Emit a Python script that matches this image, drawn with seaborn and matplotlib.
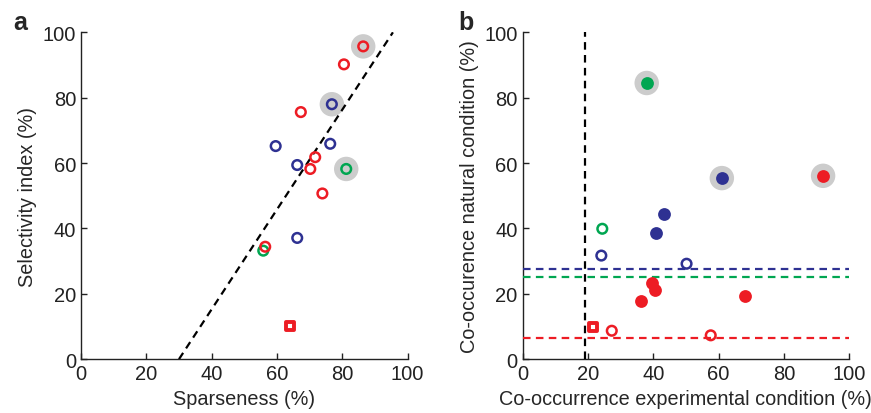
import numpy as np
import pandas as pd
import matplotlib
matplotlib.use("Agg")
import matplotlib.pyplot as plt
import seaborn as sns

# colours used in the figure
RED = "#ED1C24"
BLUE = "#2E3192"
GREEN = "#00A651"
HALO = "#CCCCCC"
palette = {"red": RED, "blue": BLUE, "green": GREEN}

# panel a: sparseness vs selectivity index
a_sparse = [86.4, 80.5, 76.8, 67.3, 59.6, 76.3, 71.7, 66.2, 70.2, 81.2, 73.9, 66.2, 56.4, 55.8, 64.1]
a_select = [95.7, 90.2, 78.0, 75.6, 65.2, 65.9, 61.8, 59.4, 58.2, 58.2, 50.7, 37.1, 34.4, 33.2, 10.1]
a_group = ["red", "red", "blue", "red", "blue", "blue", "red", "blue", "red", "green",
           "red", "blue", "red", "green", "red"]
a_halo = [1, 0, 1, 0, 0, 0, 0, 0, 0, 1, 0, 0, 0, 0, 0]
a_kind = ["open"] * 14 + ["square"]
fit_x = [30.0, 95.5]
fit_y = [0.0, 100.0]

# panel b: co-occurrence experimental vs natural
b_exp = [38.0, 61.0, 92.0, 43.4, 40.8, 24.4, 24.1, 50.2, 39.7, 40.5, 36.2, 68.0, 21.5, 27.3, 57.6]
b_nat = [84.5, 55.4, 56.1, 44.4, 38.7, 39.9, 31.7, 29.2, 23.3, 21.1, 17.7, 19.4, 9.8, 8.7, 7.3]
b_group = ["green", "blue", "red", "blue", "blue", "green", "blue", "blue", "red", "red",
           "red", "red", "red", "red", "red"]
b_halo = [1, 1, 1, 0, 0, 0, 0, 0, 0, 0, 0, 0, 0, 0, 0]
b_kind = ["filled"] * 5 + ["open", "open", "open"] + ["filled"] * 4 + ["square", "open", "open"]
chance_group = ["blue", "green", "red"]
chance_level = [27.5, 25.2, 6.4]
exp_threshold = 19.1

df_a = pd.DataFrame({"x": a_sparse, "y": a_select, "group": a_group, "halo": a_halo, "kind": a_kind})
df_b = pd.DataFrame({"x": b_exp, "y": b_nat, "group": b_group, "halo": b_halo, "kind": b_kind})

sns.set_style("ticks")
plt.rcParams["font.family"] = ["Liberation Sans", "DejaVu Sans"]
plt.rcParams["xtick.direction"] = "in"
plt.rcParams["ytick.direction"] = "in"

fig, axes = plt.subplots(1, 2, figsize=(8.71, 4.14), dpi=100)
fig.subplots_adjust(left=0.093, right=0.975, bottom=0.13, top=0.9195, wspace=0.352)

dash = (0, (3.4, 2.4))


def draw_points(ax, df):
    halo = df[df["halo"] == 1]
    sns.scatterplot(data=halo, x="x", y="y", ax=ax, color=HALO, s=310,
                    edgecolor="none", legend=False, zorder=2)
    for (grp, kind), sub in df.groupby(["group", "kind"]):
        col = palette[grp]
        if kind == "open":
            sns.scatterplot(data=sub, x="x", y="y", ax=ax, marker="o", s=48,
                            facecolor="none", edgecolor=col, linewidth=1.8,
                            legend=False, zorder=4)
        elif kind == "filled":
            sns.scatterplot(data=sub, x="x", y="y", ax=ax, marker="o", s=85,
                            color=col, edgecolor=col, linewidth=0,
                            legend=False, zorder=4)
        else:
            sns.scatterplot(data=sub, x="x", y="y", ax=ax, marker="s", s=30,
                            facecolor="white", edgecolor=col, linewidth=2.8,
                            legend=False, zorder=4)


def style_axis(ax, xlabel, ylabel):
    ax.set_xlim(0, 100)
    ax.set_ylim(0, 100)
    ax.set_xticks(np.arange(0, 101, 20))
    ax.set_yticks(np.arange(0, 101, 20))
    ax.tick_params(labelsize=14.5, length=4, width=1, colors="#222222")
    ax.set_xlabel(xlabel, fontsize=14.3, labelpad=4)
    ax.set_ylabel(ylabel, fontsize=14.3, labelpad=4)
    for side in ["left", "bottom"]:
        ax.spines[side].set_linewidth(1.0)
        ax.spines[side].set_color("#222222")
    sns.despine(ax=ax)


# panel a
ax = axes[0]
draw_points(ax, df_a)
sns.lineplot(x=fit_x, y=fit_y, ax=ax, color="black", linewidth=1.6, linestyle=dash, zorder=3)
style_axis(ax, "Sparseness (%)", "Selectivity index (%)")
fig.text(0.015, 0.928, "a", fontsize=18, fontweight="bold", va="baseline")

# panel b
ax = axes[1]
draw_points(ax, df_b)
for grp, lvl in zip(chance_group, chance_level):
    ax.axhline(lvl, color=palette[grp], linewidth=1.6, linestyle=dash, zorder=3)
ax.axvline(exp_threshold, color="black", linewidth=1.6, linestyle=dash, zorder=3)
style_axis(ax, "Co-occurrence experimental condition (%)", "Co-occurence natural condition (%)")
fig.text(0.526, 0.928, "b", fontsize=18, fontweight="bold", va="baseline")

fig.savefig("out.png", dpi=100)
